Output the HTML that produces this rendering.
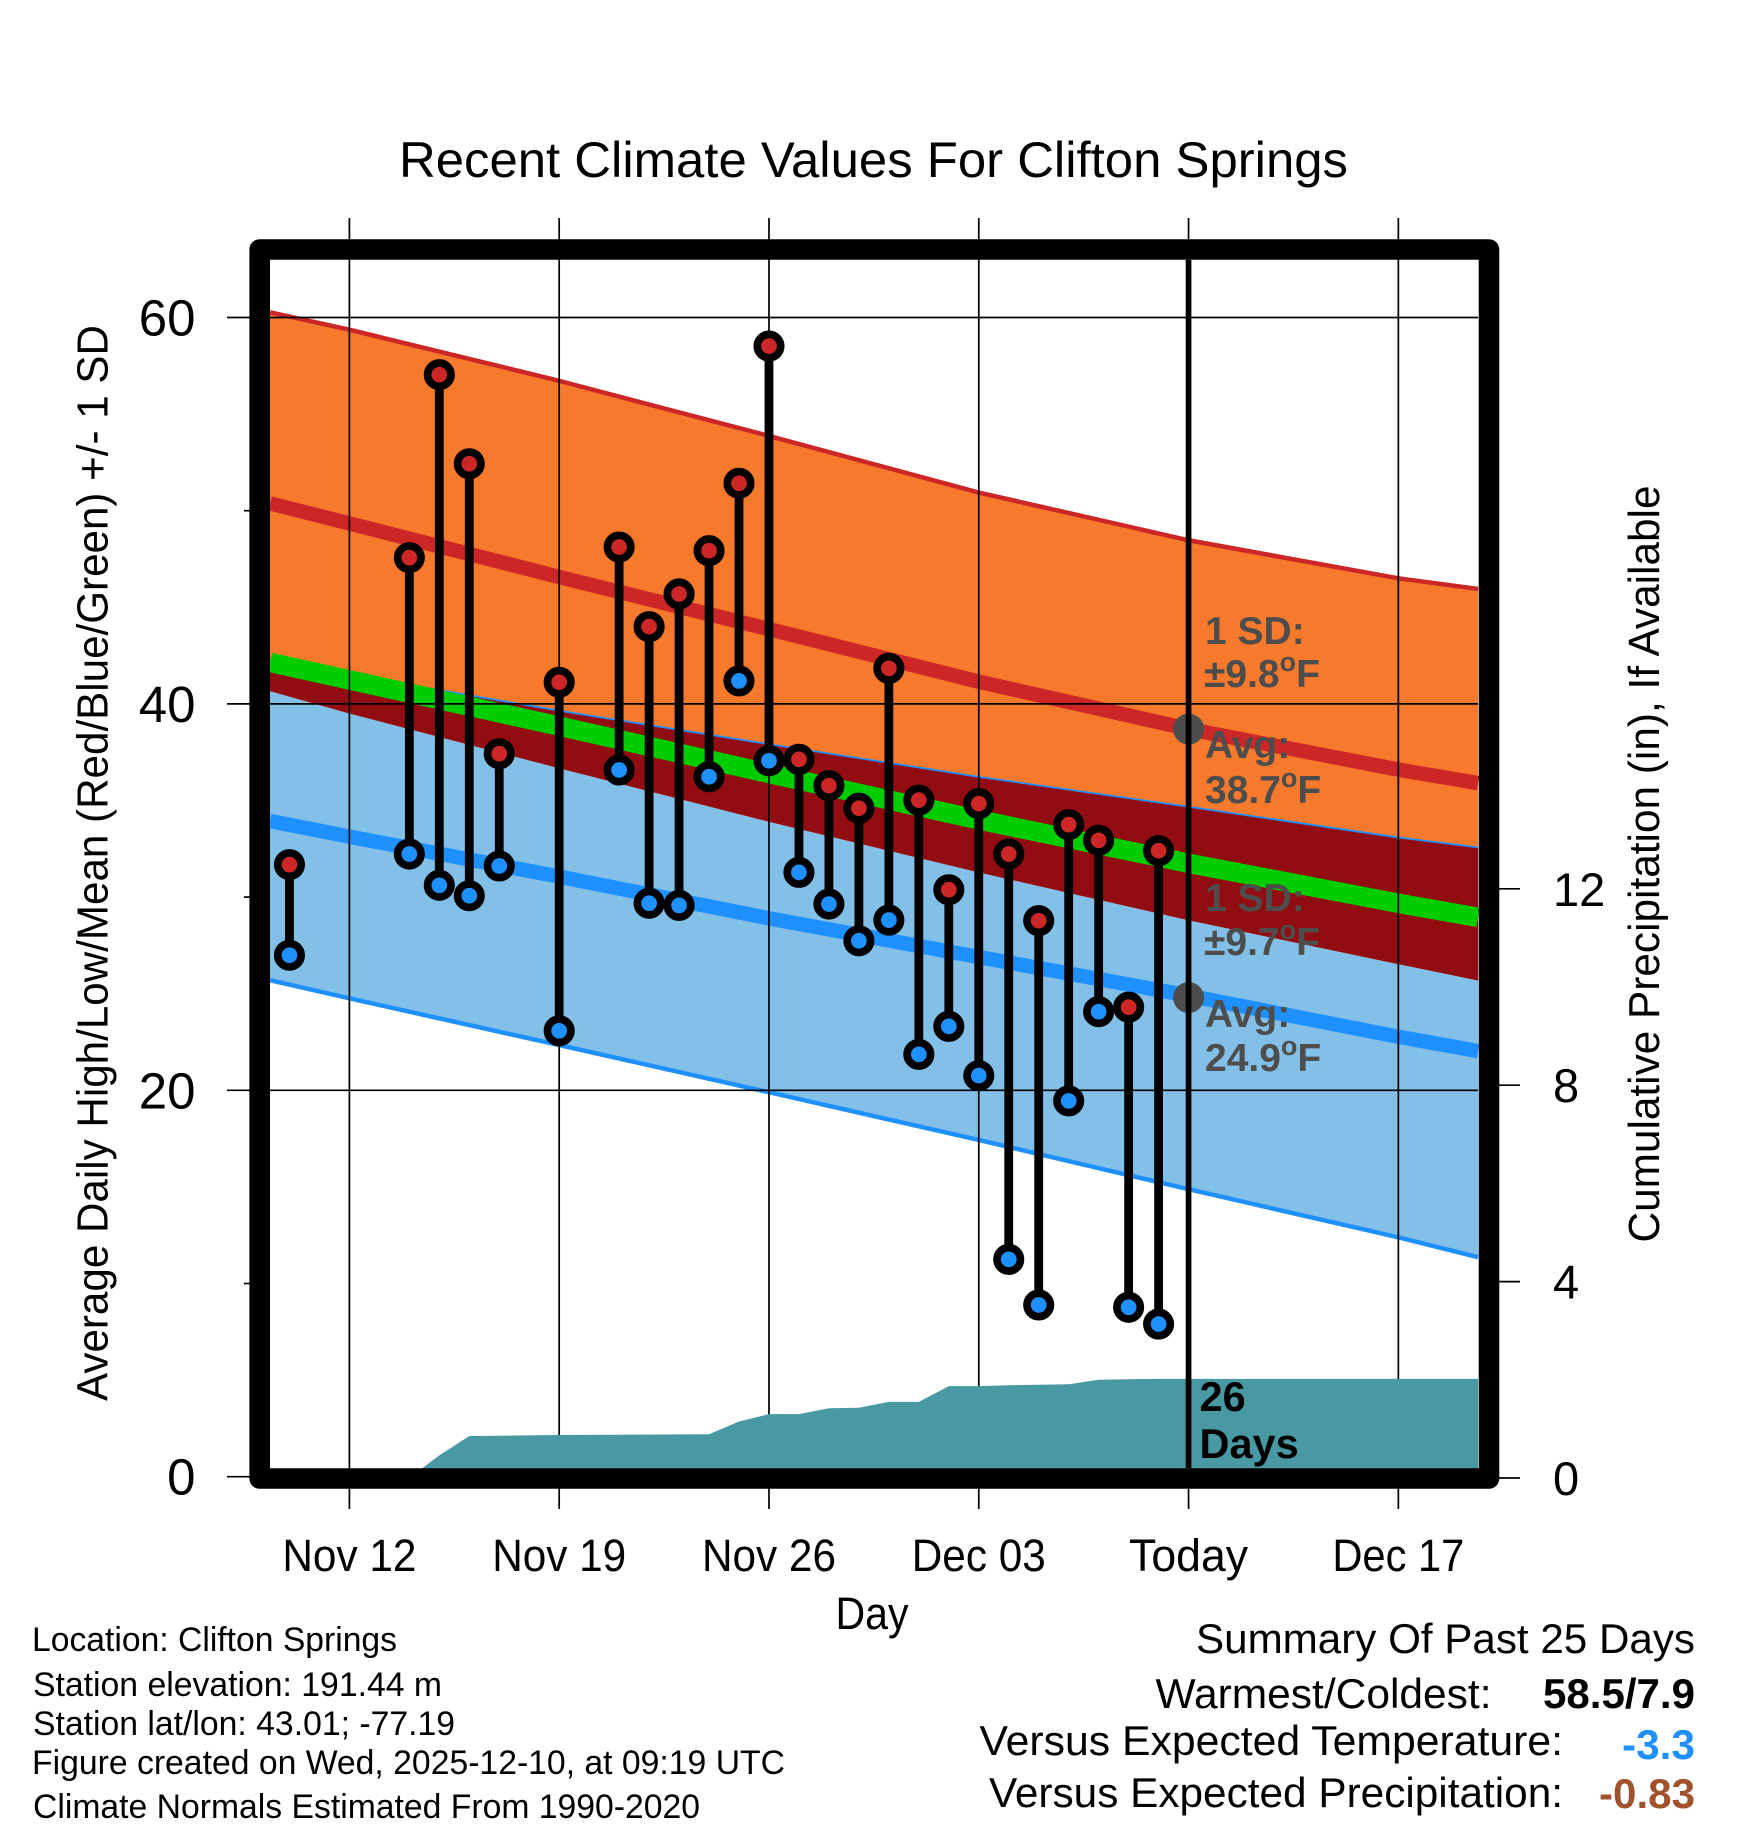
<!DOCTYPE html>
<html lang="en">
<head>
<meta charset="utf-8">
<title>Recent Climate Values For Clifton Springs</title>
<style>
html,body{margin:0;padding:0;background:#fff;}
svg{display:block;font-family:"Liberation Sans",Arial,sans-serif;}
</style>
</head>
<body>
<svg id="chart" xmlns="http://www.w3.org/2000/svg" width="1748" height="1828" viewBox="0 0 1748 1828">
  <rect x="0" y="0" width="1748" height="1828" fill="#ffffff"/>
  <g id="bands"></g>
  <g id="grid"></g>
  <g id="precip"></g>
  <g id="marks"></g>
  <g id="today"></g>

  <g font-size="39" font-weight="bold" fill="#4d4d4d">
    <text x="1205" y="644">1 SD:</text>
    <text x="1204" y="687">±9.8<tspan font-size="27" dy="-16">o</tspan><tspan dy="16">F</tspan></text>
    <text x="1205" y="758">Avg:</text>
    <text x="1205" y="803">38.7<tspan font-size="27" dy="-16">o</tspan><tspan dy="16">F</tspan></text>
    <text x="1205" y="911">1 SD:</text>
    <text x="1204" y="955">±9.7<tspan font-size="27" dy="-16">o</tspan><tspan dy="16">F</tspan></text>
    <text x="1205" y="1027">Avg:</text>
    <text x="1205" y="1071">24.9<tspan font-size="27" dy="-16">o</tspan><tspan dy="16">F</tspan></text>
  </g>

  <rect x="259.7" y="249.5" width="1229.3" height="1229" fill="none" stroke="#000" stroke-width="20.6" stroke-linejoin="round"/>

  <g font-size="41.5" font-weight="bold" fill="#000">
    <text x="1199.5" y="1411">26</text>
    <text x="1199.5" y="1458">Days</text>
  </g>

  <text x="399" y="177" font-size="50" textLength="949" lengthAdjust="spacingAndGlyphs">Recent Climate Values For Clifton Springs</text>
  <text transform="translate(107.5 1401) rotate(-90)" font-size="44" textLength="1076" lengthAdjust="spacingAndGlyphs">Average Daily High/Low/Mean (Red/Blue/Green) +/- 1 SD</text>
  <text transform="translate(1659 1242.5) rotate(-90)" font-size="44" textLength="757" lengthAdjust="spacingAndGlyphs">Cumulative Precipitation (in), If Available</text>
  <text x="835.5" y="1629" font-size="45" textLength="73" lengthAdjust="spacingAndGlyphs">Day</text>
  <g id="ticklabels"></g>

  <g font-size="34">
    <text x="32" y="1651" textLength="365" lengthAdjust="spacingAndGlyphs">Location: Clifton Springs</text>
    <text x="33" y="1696" textLength="409" lengthAdjust="spacingAndGlyphs">Station elevation: 191.44 m</text>
    <text x="33" y="1735" textLength="422" lengthAdjust="spacingAndGlyphs">Station lat/lon: 43.01; -77.19</text>
    <text x="32" y="1774" textLength="753" lengthAdjust="spacingAndGlyphs">Figure created on Wed, 2025-12-10, at 09:19 UTC</text>
    <text x="33" y="1818" textLength="667" lengthAdjust="spacingAndGlyphs">Climate Normals Estimated From 1990-2020</text>
  </g>

  <g font-size="42">
    <text x="1196" y="1653" textLength="499" lengthAdjust="spacingAndGlyphs">Summary Of Past 25 Days</text>
    <text x="1155.5" y="1708" textLength="336" lengthAdjust="spacingAndGlyphs">Warmest/Coldest:</text>
    <text x="1543" y="1708" font-weight="bold" textLength="152" lengthAdjust="spacingAndGlyphs">58.5/7.9</text>
    <text x="979.5" y="1755" textLength="583.5" lengthAdjust="spacingAndGlyphs">Versus Expected Temperature:</text>
    <text x="1622" y="1759" font-weight="bold" fill="#1e90ff" textLength="73" lengthAdjust="spacingAndGlyphs">-3.3</text>
    <text x="989" y="1807" textLength="574" lengthAdjust="spacingAndGlyphs">Versus Expected Precipitation:</text>
    <text x="1599" y="1808" font-weight="bold" fill="#a0522d" textLength="96" lengthAdjust="spacingAndGlyphs">-0.83</text>
  </g>
</svg>

<script>
// Observation days (day-of-November numbering; 31 = Dec 1)
const obsDays = [10,14,15,16,17,19,21,22,23,24,25,26,27,28,29,30,31,32,33,34,35,36,37,38,39];
const highs = [31.68,47.57,57.04,52.43,37.42,41.12,48.12,44.0,45.69,47.93,51.42,58.52,37.13,35.77,34.6,41.84,35.02,30.38,34.84,32.23,28.78,33.75,32.94,24.3,32.4];
const lows = [26.99,32.23,30.61,30.07,31.61,23.08,36.58,29.68,29.57,36.23,41.19,37.06,31.28,29.64,27.74,28.81,21.86,23.31,20.76,11.25,8.89,19.45,24.07,8.77,7.9];

// Climate normals
const normalDays = [9.35,12,19,26,33,40,47,49.66];
const highPlusSd = [60.27,59.37,56.72,53.87,50.94,48.47,46.5,45.95];
const highAvg = [50.38,49.34,46.57,43.87,41.15,38.7,36.6,35.9];
const highMinusSd = [40.66,39.5,36.67,33.9,31.28,28.8,26.53,25.68];
const lowPlusSd = [42.2,41.47,39.6,37.87,36.18,34.63,33.04,32.53];
const lowAvg = [33.94,33.13,31.06,28.9,26.9,24.9,22.77,22.03];
const lowMinusSd = [25.7,24.76,22.34,19.9,17.43,14.88,12.39,11.36];
const meanAvg = [42.15,41.24,38.85,36.4,34.0,31.75,29.68,28.95];

// Cumulative precipitation
const precipDays = [9.35,14,15,16,19,24,25,26,27,28,29,30,31,32,33,34,35,36,37,38,39,40,49.66];
const precipValues = [0,0,0.46,0.855,0.875,0.89,1.15,1.30,1.30,1.42,1.43,1.55,1.55,1.87,1.87,1.89,1.90,1.91,2.0,2.01,2.02,2.02,2.02];

// Axes
const xTickDays = [12,19,26,33,40,47];
const xTickLabels = ['Nov 12','Nov 19','Nov 26','Dec 03','Today','Dec 17'];
const xLabelWidths = [134,134,134,134,119,132];
const yMajorTicks = [0,20,40,60];
const yMinorTicks = [10,30,50];
const precipTicks = [0,4,8,12];
const todayDay = 40;
const todayHighAvg = 38.7;
const todayLowAvg = 24.8;

const SVGNS = 'http://www.w3.org/2000/svg';
function xScale(d){ return 349.4 + 29.97 * (d - 12); }
function yScale(v){ return 1476.7 - 19.32 * v; }
function pScale(p){ return 1478 - 49.1 * p; }

function make(parent, tag, attrs){
  const node = document.createElementNS(SVGNS, tag);
  for (const k in attrs) node.setAttribute(k, attrs[k]);
  parent.appendChild(node);
  return node;
}
function linePts(days, vals){
  return days.map(function(d,i){ return xScale(d).toFixed(2) + ',' + yScale(vals[i]).toFixed(2); });
}
function bandPts(days, upper, lower){
  return linePts(days, upper).concat(linePts(days, lower).reverse()).join(' ');
}

const bands = document.getElementById('bands');
const grid = document.getElementById('grid');
const precip = document.getElementById('precip');
const marks = document.getElementById('marks');
const todayG = document.getElementById('today');
const labels = document.getElementById('ticklabels');
let el;

el = make(bands, 'polygon', {points: bandPts(normalDays, lowPlusSd, lowMinusSd), fill: '#83c0e8'});



el = make(bands, 'polygon', {points: bandPts(normalDays, highPlusSd, highMinusSd), fill: '#f7792c'});



el = make(bands, 'polyline', {points: linePts(normalDays, lowPlusSd).join(' '), fill: 'none', stroke: '#1e90ff', 'stroke-width': 3.5});



el = make(bands, 'polygon', {points: bandPts(normalDays, lowPlusSd, highMinusSd), fill: '#910d12'});



el = make(bands, 'polyline', {points: linePts(normalDays, highPlusSd).join(' '), fill: 'none', stroke: '#cd2626', 'stroke-width': 4.5});



el = make(bands, 'polyline', {points: linePts(normalDays, lowMinusSd).join(' '), fill: 'none', stroke: '#1e90ff', 'stroke-width': 4.5});



el = make(bands, 'polyline', {points: linePts(normalDays, meanAvg).join(' '), fill: 'none', stroke: '#00cd00', 'stroke-width': 19.5});



el = make(bands, 'polyline', {points: linePts(normalDays, highAvg).join(' '), fill: 'none', stroke: '#cd2626', 'stroke-width': 14.5});



el = make(bands, 'polyline', {points: linePts(normalDays, lowAvg).join(' '), fill: 'none', stroke: '#1e90ff', 'stroke-width': 14.5});



xTickDays.forEach(function(d, i){
  const x = xScale(d);
  el = make(grid, 'line', {x1: x, x2: x, y1: 218, y2: 1509, stroke: '#000', 'stroke-width': 1.7});
  
  
  el = make(labels, 'text', {x: x - xLabelWidths[i] / 2, y: 1571, 'font-size': 45, textLength: xLabelWidths[i], lengthAdjust: 'spacingAndGlyphs'});
  el.textContent = xTickLabels[i];
  
  
});

yMajorTicks.forEach(function(v){
  const y = yScale(v);
  el = make(grid, 'line', {x1: 227, x2: 1478, y1: y, y2: y, stroke: '#000', 'stroke-width': 1.7});
  
  
  el = make(labels, 'text', {x: 195.5, y: y + 18, 'font-size': 51, 'text-anchor': 'end'});
  el.textContent = String(v);
  
  
});

yMinorTicks.forEach(function(v){
  const y = yScale(v);
  el = make(grid, 'line', {x1: 244, x2: 252, y1: y, y2: y, stroke: '#000', 'stroke-width': 1.7});
  
  
});

precipTicks.forEach(function(p){
  const y = pScale(p);
  el = make(grid, 'line', {x1: 1496, x2: 1520, y1: y, y2: y, stroke: '#000', 'stroke-width': 1.7});
  
  
  el = make(labels, 'text', {x: 1553, y: y + 17, 'font-size': 47});
  el.textContent = String(p);
  
  
});

const precipPts = precipDays.map(function(d, i){ return xScale(d).toFixed(2) + ',' + pScale(precipValues[i]).toFixed(2); });
precipPts.push(xScale(precipDays[precipDays.length - 1]).toFixed(2) + ',' + pScale(0));
precipPts.push(xScale(precipDays[0]).toFixed(2) + ',' + pScale(0));
el = make(precip, 'polygon', {points: precipPts.join(' '), fill: '#4899a3'});



obsDays.forEach(function(d, i){
  const x = xScale(d);
  el = make(marks, 'line', {x1: x, x2: x, y1: yScale(highs[i]), y2: yScale(lows[i]), stroke: '#000', 'stroke-width': 8.8});
  
  
});
obsDays.forEach(function(d, i){
  const x = xScale(d);
  el = make(marks, 'circle', {cx: x, cy: yScale(lows[i]), r: 11.7, fill: '#1e90ff', stroke: '#000', 'stroke-width': 7.7});
  
  
  el = make(marks, 'circle', {cx: x, cy: yScale(highs[i]), r: 11.7, fill: '#cd2626', stroke: '#000', 'stroke-width': 7.7});
  
  
});

el = make(todayG, 'circle', {cx: xScale(todayDay), cy: yScale(todayHighAvg), r: 15.5, fill: '#4d4d4d'});


el = make(todayG, 'circle', {cx: xScale(todayDay), cy: yScale(todayLowAvg), r: 15.5, fill: '#4d4d4d'});


el = make(todayG, 'line', {x1: xScale(todayDay), x2: xScale(todayDay), y1: 260, y2: 1468, stroke: '#000', 'stroke-width': 5.7});


</script>
</body>
</html>
